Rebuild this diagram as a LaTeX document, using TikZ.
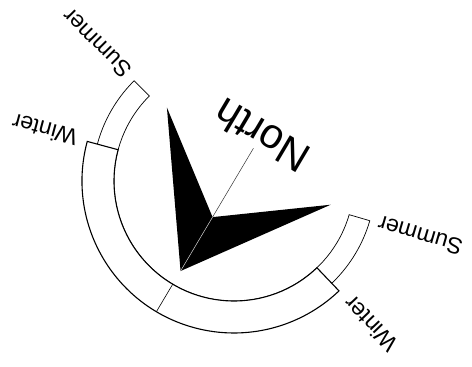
\documentclass[tikz,border=0pt]{standalone}
\usepackage{fontspec}
\setmainfont{Liberation Sans}

\begin{document}
\begin{tikzpicture}[
    x=1pt, y=1pt,
    summer_band/.style={draw, fill=white, line width=0.7pt},
    winter_band/.style={draw, fill=white, line width=1.1pt},
    season_label/.style={font=\fontsize{23}{23}\selectfont, inner sep=0pt},
    north_label/.style={font=\fontsize{42}{42}\selectfont, inner sep=0pt}
]
    \useasboundingbox (-234,-186) rectangle (238,181);
    % bands
    \draw [summer_band] (134.9:120) -- (134.9:141.5) arc[start angle=134.9, end angle=343.7, radius=141.5]
        -- (343.7:120) arc[start angle=343.7, end angle=134.9, radius=120] -- cycle;
    \draw [winter_band] (164.9:120) -- (164.9:152) arc[start angle=164.9, end angle=313.7, radius=152]
        -- (313.7:120) arc[start angle=313.7, end angle=164.9, radius=120] -- cycle;
    \coordinate (S1) at (239.3:120);
    \coordinate (S2) at (239.3:152);
    \draw [line width=0.6pt] (S1) -- (S2);
    % north arrow
    \coordinate (T) at (239.3:104.7);
    \coordinate (P1) at (132.4:99.5);
    \coordinate (V) at (239.3:42);
    \coordinate (P2) at (346.2:99.5);
    \coordinate (E) at (59.3:38);
    \fill (T) -- (P1) -- (V) -- cycle;
    \fill (T) -- (V) -- (P2) -- cycle;
    \draw [gray!40, line width=0.5pt] (T) -- (V);
    \draw [black!80, line width=0.5pt] (V) -- (E);
    % labels
    \node [season_label, rotate=134.9] (SL) at (134.9:194) {Summer};
    \node [season_label, rotate=163.7] (SR) at (343.7:194) {Summer};
    \node [season_label, rotate=164.9] (WL) at (164.9:196) {Winter};
    \node [season_label, rotate=133.7] (WR) at (313.7:198) {Winter};
    \node [north_label, rotate=149.3] (N) at (58:53) {North};
\end{tikzpicture}
\end{document}
